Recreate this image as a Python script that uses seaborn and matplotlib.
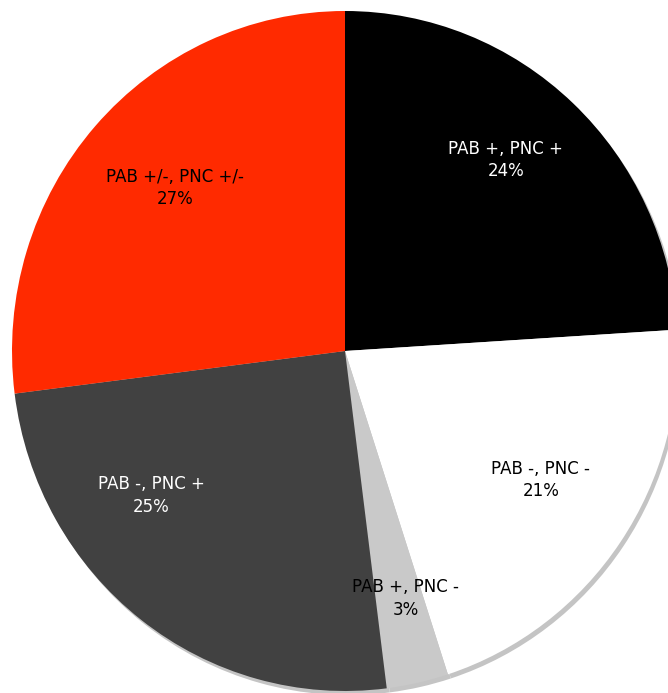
import numpy as np
import matplotlib
matplotlib.use("Agg")
import matplotlib.pyplot as plt
import seaborn as sns

# Serology groups and their share of patients (%)
categories = ["PAB +, PNC +", "PAB -, PNC -", "PAB +, PNC -", "PAB -, PNC +", "PAB +/-, PNC +/-"]
shares = [24, 21, 3, 25, 27]
slice_colors = ["#000000", "#ffffff", "#c9c9c9", "#414141", "#ff2a00"]
text_colors = ["white", "black", "black", "white", "black"]

# label placement: radial distance and angular nudge from each wedge's mid-angle
label_radius = [0.74, 0.70, 0.75, 0.72, 0.70]
label_nudge = [2.5, 1.3, 1.4, -16.0, -1.9]

sns.set_theme(style="white")
plt.rcParams["font.family"] = ["DejaVu Sans"]

fig = plt.figure(figsize=(6.68, 6.93), dpi=100)
ax = fig.add_axes([0, 0, 1, 1])

# soft drop shadow under the pie, shifted right and down
ax.pie(shares, colors=["#c4c4c4"] * len(shares), startangle=90, counterclock=False,
       center=(0.009, -0.012), radius=1.0, wedgeprops=dict(linewidth=0))

wedges, _ = ax.pie(shares, colors=slice_colors, startangle=90, counterclock=False,
                   radius=1.0, wedgeprops=dict(linewidth=0))

for w, cat, val, tc, r, nd in zip(wedges, categories, shares, text_colors,
                                  label_radius, label_nudge):
    mid = np.deg2rad((w.theta1 + w.theta2) / 2 + nd)
    ax.text(r * np.cos(mid), r * np.sin(mid), f"{cat}\n{val}%",
            ha="center", va="center", color=tc, fontsize=12, linespacing=1.3)

ax.set_aspect("auto")
ax.set_xlim(-345 / 333, (668 - 345) / 333)
ax.set_ylim(-(693 - 351) / 340, 351 / 340)
ax.axis("off")

fig.savefig("out.png", dpi=100, facecolor="white")
